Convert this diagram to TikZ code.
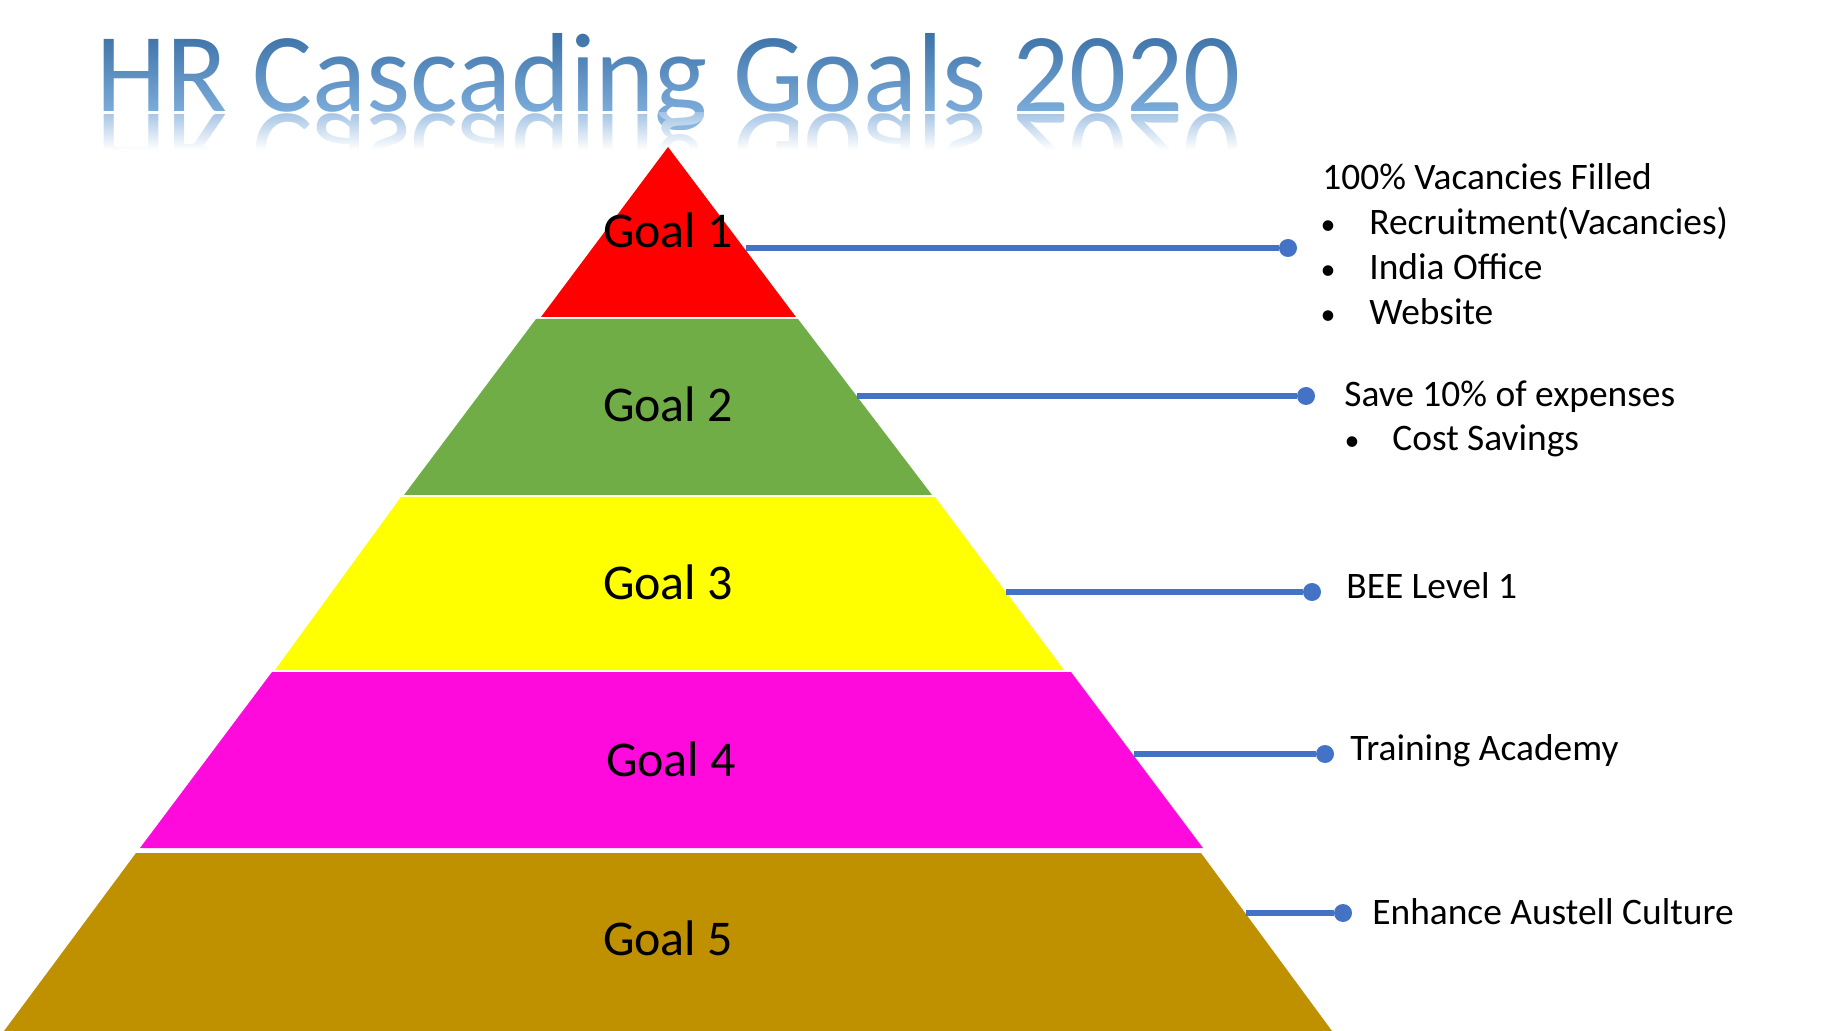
\documentclass[tikz,border=0pt]{standalone}
\usepackage{fontspec}
\setmainfont{Carlito}
\usetikzlibrary{fadings}

\definecolor{goalred}{HTML}{FF0000}
\definecolor{goalgreen}{HTML}{70AD47}
\definecolor{goalyellow}{HTML}{FFFF00}
\definecolor{goalmagenta}{HTML}{FF0ADC}
\definecolor{goalgold}{HTML}{BF9000}
\definecolor{linkblue}{HTML}{4472C4}
\definecolor{titletop}{HTML}{3A70A6}
\definecolor{titlebot}{HTML}{8AB9E5}
\definecolor{reflblue}{HTML}{A6C5E5}

\newcommand\headline{HR Cascading Goals 2020}
\newcommand\headfont{\fontsize{56.2pt}{56.2pt}\selectfont}

% Masks for the heading and its mirrored reflection
\begin{tikzfadingfrompicture}[name=headmask, x=0.5pt, y=-0.5pt]
  \fill[transparent!100] (0,0) rectangle (1831,1031);
  \node[text=transparent!0, font=\headfont, anchor=base west, inner sep=0pt] at (96,111) {\headline};
\end{tikzfadingfrompicture}
\begin{tikzfadingfrompicture}[name=reflmask, x=0.5pt, y=-0.5pt]
  \fill[transparent!100] (0,0) rectangle (1831,1031);
  \node[text=transparent!0, font=\headfont, anchor=base west, inner sep=0pt, yscale=-1] at (96,114) {\headline};
\end{tikzfadingfrompicture}

\begin{document}
\begin{tikzpicture}[x=0.5pt, y=-0.5pt,
  goal/.style={font=\fontsize{25pt}{25pt}\selectfont, anchor=base, inner sep=0pt, text=black},
  note/.style={font=\fontsize{18.7pt}{18.7pt}\selectfont, anchor=base west, inner sep=0pt, text=black},
  bulletmark/.style={font=\fontsize{15pt}{15pt}\selectfont, anchor=base, inner sep=0pt, text=black},
  dot/.style={circle, fill=linkblue, minimum size=9pt, inner sep=0pt},
  link/.style={draw=linkblue, line width=2.8pt},
  maskfit/.style={fit fading=false, fading transform={shift={(915.5,515.5)}}}]

\useasboundingbox (0,0) rectangle (1831,1031);
\fill[white] (0,0) rectangle (1831,1031);

% Heading with vertical gradient and soft reflection
\shade[path fading=headmask, maskfit, top color=titletop, bottom color=titlebot]
  (60,30) rectangle (1300,130);
\shade[path fading=reflmask, maskfit, top color=reflblue, bottom color=white]
  (60,113) rectangle (1300,150);

% Pyramid tiers
\fill[goalred]     (668,147) -- (796,317) -- (541,317) -- cycle;
\fill[goalgreen]   (536,319) -- (798,319) -- (932,495) -- (404,495) -- cycle;
\fill[goalyellow]  (401,497) -- (935,497) -- (1064,670) -- (275,670) -- cycle;
\fill[goalmagenta] (272,672) -- (1071,672) -- (1203,848) -- (140,848) -- cycle;
\fill[goalgold]    (136,853) -- (1201,853) -- (1332,1031) -- (4,1031) -- cycle;

\node[goal] (g1) at (668,248) {Goal 1};
\node[goal] (g2) at (668,422) {Goal 2};
\node[goal] (g3) at (668,600) {Goal 3};
\node[goal] (g4) at (671,776) {Goal 4};
\node[goal] (g5) at (668,955) {Goal 5};

% Connector start points on the right side of the pyramid
\coordinate (e1) at (746,248);
\coordinate (e2) at (857,396);
\coordinate (e3) at (1006,592);
\coordinate (e4) at (1134,754);
\coordinate (e5) at (1246,913);

\node[dot] (d1) at (1288,248) {};
\node[dot] (d2) at (1306,396) {};
\node[dot] (d3) at (1312,592) {};
\node[dot] (d4) at (1325,754) {};
\node[dot] (d5) at (1343,913) {};

\draw[link] (e1) -- (d1);
\draw[link] (e2) -- (d2);
\draw[link] (e3) -- (d3);
\draw[link] (e4) -- (d4);
\draw[link] (e5) -- (d5);

% Objectives per goal
\node[note] (t1) at (1322,190) {100\% Vacancies Filled};
\node[bulletmark] (b1a) at (1328,235) {•};
\node[note] (t1a) at (1369,235) {Recruitment(Vacancies)};
\node[bulletmark] (b1b) at (1328,280) {•};
\node[note] (t1b) at (1369,280) {India Office};
\node[bulletmark] (b1c) at (1328,325) {•};
\node[note] (t1c) at (1369,325) {Website};

\node[note] (t2) at (1344,407) {Save 10\% of expenses};
\node[bulletmark] (b2a) at (1352,451) {•};
\node[note] (t2a) at (1392,451) {Cost Savings};

\node[note] (t3) at (1346,599) {BEE Level 1};
\node[note] (t4) at (1350,760) {Training Academy};
\node[note] (t5) at (1372,924) {Enhance Austell Culture};
\end{tikzpicture}
\end{document}
